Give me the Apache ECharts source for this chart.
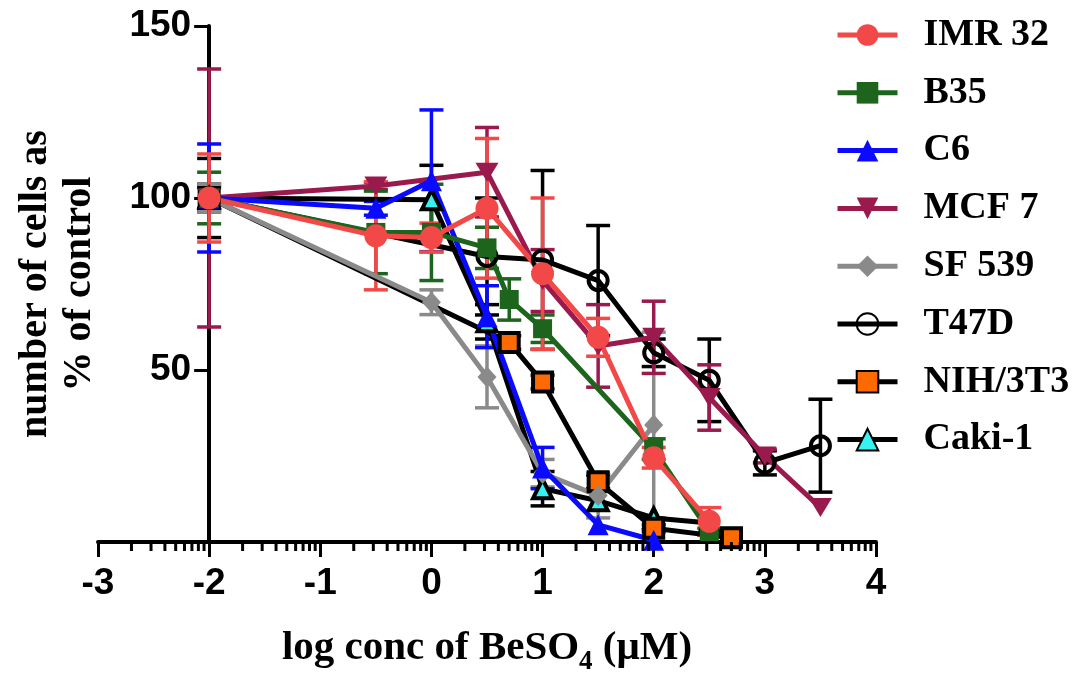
<!DOCTYPE html>
<html>
<head>
<meta charset="utf-8">
<script src="https://cdn.jsdelivr.net/npm/echarts@6/dist/echarts.min.js"></script>
<style>
  html, body { margin: 0; padding: 0; background: #ffffff; }
  #chart { width: 1075px; height: 683px; }
</style>
</head>
<body>
<div id="chart"></div>
<script>
// ---- axis ticks ----
const xTicks = [-3, -2, -1, 0, 1, 2, 3, 4];
const yTicks = [0, 50, 100, 150];

// ---- data: x = log10 concentration (uM), y = % of control, err = error bar half-length ----
const imr32X   = [-2, -0.5, 0, 0.5, 1, 1.5, 2, 2.5];
const imr32Y   = [100, 89, 88.5, 97, 78, 59.5, 24.5, 6];
const imr32Err = [12.8, 15.7, 4.2, 20.3, 22, 5.5, 3, 4];

const b35X   = [-2, -0.5, 0, 0.5, 0.7, 1, 2, 2.5];
const b35Y   = [100, 90, 90, 85.5, 70.5, 62, 27, 3];
const b35Err = [7.5, 12, 14, 6, 6, 4, 3, 1];

const c6X   = [-2, -0.5, 0, 0.5, 1, 1.5, 2];
const c6Y   = [100, 97, 105, 65.5, 21.5, 5, 0.5];
const c6Err = [15.7, 2, 20.6, 9, 6, 0, 0];

const mcf7X   = [-2, -0.5, 0.5, 1, 1.5, 2, 2.5, 3, 3.5];
const mcf7Y   = [100, 103.5, 107.5, 76, 57, 59.5, 42, 25, 10];
const mcf7Err = [37.5, 1, 13, 9, 12, 10.5, 9.5, 2, 0];

const sf539X   = [-2, 0, 0.5, 1, 1.5, 2];
const sf539Y   = [100, 69.7, 48, 20, 13.5, 34];
const sf539Err = [4, 3.6, 9, 4, 6.5, 27];

const t47dX   = [-2, 0.5, 1, 1.5, 2, 2.5, 3, 3.5];
const t47dY   = [100, 83, 82, 76, 55, 47, 23, 28];
const t47dErr = [11.5, 17, 26, 16, 4, 12, 3.5, 13.5];

const nih3t3X   = [-2, 0.7, 1, 1.5, 2, 2.7];
const nih3t3Y   = [100, 58, 46.5, 17.5, 4, 1.2];
const nih3t3Err = [3, 2, 2, 2, 1, 0];

const caki1X   = [-2, 0, 0.5, 1, 1.5, 2, 2.5];
const caki1Y   = [100, 99.5, 64, 15.5, 12, 7, 5.5];
const caki1Err = [4, 10, 5, 5, 0, 0, 0];

const legendNames = ['IMR 32', 'B35', 'C6', 'MCF 7', 'SF 539', 'T47D', 'NIH/3T3', 'Caki-1'];

// ---- styles ----
const downTriangle = 'path://M0,0L20,0L10,17Z';
const cellLines = [
  { name: 'IMR 32', x: imr32X, y: imr32Y, err: imr32Err,
    line: '#f24848', fill: '#f24848', border: '#f24848', bw: 0, symbol: 'circle', size: 23, bar: '#f24848' },
  { name: 'B35', x: b35X, y: b35Y, err: b35Err,
    line: '#1d641d', fill: '#1d641d', border: '#1d641d', bw: 0, symbol: 'rect', size: 19, bar: '#1d641d' },
  { name: 'C6', x: c6X, y: c6Y, err: c6Err,
    line: '#0a0aff', fill: '#0a0aff', border: '#0a0aff', bw: 0, symbol: 'triangle', size: 21, bar: '#0a0aff' },
  { name: 'MCF 7', x: mcf7X, y: mcf7Y, err: mcf7Err,
    line: '#9a1a4e', fill: '#9a1a4e', border: '#9a1a4e', bw: 0, symbol: downTriangle, size: [23, 19], bar: '#9a1a4e' },
  { name: 'SF 539', x: sf539X, y: sf539Y, err: sf539Err,
    line: '#8a8a8a', fill: '#8a8a8a', border: '#8a8a8a', bw: 0, symbol: 'diamond', size: [19, 21], bar: '#8a8a8a' },
  { name: 'T47D', x: t47dX, y: t47dY, err: t47dErr,
    line: '#000000', fill: 'rgba(0,0,0,0)', border: '#000000', bw: 4, symbol: 'circle', size: 19, bar: '#000000' },
  { name: 'NIH/3T3', x: nih3t3X, y: nih3t3Y, err: nih3t3Err,
    line: '#000000', fill: '#ff6a00', border: '#000000', bw: 4, symbol: 'rect', size: 19, bar: '#000000' },
  { name: 'Caki-1', x: caki1X, y: caki1Y, err: caki1Err,
    line: '#000000', fill: '#38f2f2', border: '#000000', bw: 4, symbol: 'triangle', size: 19, bar: '#000000' }
];

// log-spaced minor ticks along the x axis (2..9 within each decade)
const minorTicks = [];
for (let d = xTicks[0]; d < xTicks[xTicks.length - 1]; d++) {
  for (let k = 2; k <= 9; k++) minorTicks.push([d + Math.log10(k), 0]);
}

function errorBarItem(params, api) {
  const x = api.value(0), y = api.value(1), e = api.value(2);
  if (!e) return null;
  const top = api.coord([x, y + e]);
  const bot = api.coord([x, y - e]);
  const half = 12;
  const style = { stroke: api.visual('color'), lineWidth: 3.5 };
  return {
    type: 'group',
    children: [
      { type: 'line', shape: { x1: top[0], y1: top[1], x2: bot[0], y2: bot[1] }, style: style },
      { type: 'line', shape: { x1: top[0] - half, y1: top[1], x2: top[0] + half, y2: top[1] }, style: style },
      { type: 'line', shape: { x1: bot[0] - half, y1: bot[1], x2: bot[0] + half, y2: bot[1] }, style: style }
    ]
  };
}

function minorTickItem(params, api) {
  const p = api.coord([api.value(0), 0]);
  return {
    type: 'line',
    shape: { x1: p[0], y1: p[1], x2: p[0], y2: p[1] + 9 },
    style: { stroke: '#000', lineWidth: 3 }
  };
}

const GRID_LEFT = 98, GRID_WIDTH = 778;
const unitPx = GRID_WIDTH / (xTicks[xTicks.length - 1] - xTicks[0]);

const series = [];
// later series are drawn on top, so add them in reverse legend order
for (let i = cellLines.length - 1; i >= 0; i--) {
  const c = cellLines[i];
  series.push({
    type: 'custom',
    name: c.name + ' SEM',
    renderItem: errorBarItem,
    itemStyle: { color: c.bar },
    data: c.x.map((v, j) => [v, c.y[j], c.err[j]]),
    encode: { x: 0, y: 1 },
    clip: false,
    silent: true,
    z: 2
  });
  series.push({
    type: 'line',
    name: c.name,
    data: c.x.map((v, j) => [v, c.y[j]]),
    symbol: c.symbol,
    symbolSize: c.size,
    showAllSymbol: true,
    lineStyle: { color: c.line, width: 5 },
    itemStyle: { color: c.fill, borderColor: c.border, borderWidth: c.bw },
    z: 2
  });
}
series.push({
  type: 'custom',
  name: 'minor ticks',
  renderItem: minorTickItem,
  data: minorTicks,
  encode: { x: 0, y: 1 },
  clip: false,
  silent: true,
  z: 5
});

const chart = echarts.init(document.getElementById('chart'), null, { renderer: 'canvas' });
chart.setOption({
  animation: false,
  backgroundColor: '#ffffff',
  grid: { left: GRID_LEFT, width: GRID_WIDTH, top: 26, bottom: 141, containLabel: false },
  legend: {
    data: legendNames,
    orient: 'vertical',
    left: 830,
    top: 10,
    itemWidth: 60,
    itemHeight: 27,
    itemGap: 17.8,
    selectedMode: false,
    lineStyle: { width: 5 },
    textStyle: {
      fontFamily: 'Liberation Serif', fontWeight: 'bold', fontSize: 38,
      color: '#000', lineHeight: 40, padding: [0, 0, 0, 21]
    }
  },
  xAxis: {
    type: 'value',
    min: xTicks[0],
    max: xTicks[xTicks.length - 1],
    interval: 1,
    name: '{n|log conc of BeSO}{s|4}{n| (\u03bcM)}',
    nameLocation: 'middle',
    nameGap: 79,
    nameTextStyle: {
      rich: {
        n: { fontFamily: 'Liberation Serif', fontWeight: 'bold', fontSize: 41, color: '#000' },
        s: { fontFamily: 'Liberation Serif', fontWeight: 'bold', fontSize: 27, color: '#000', padding: [28, 0, 0, 0] }
      }
    },
    axisLine: { onZero: false, lineStyle: { color: '#000', width: 4 } },
    axisTick: { length: 15, lineStyle: { color: '#000', width: 3 } },
    axisLabel: { fontFamily: 'Liberation Sans', fontWeight: 'bold', fontSize: 37, color: '#000', margin: 23 },
    splitLine: { show: false }
  },
  yAxis: {
    type: 'value',
    min: yTicks[0],
    max: yTicks[yTicks.length - 1],
    interval: 50,
    offset: -unitPx * (xTicks[1] - xTicks[0]),
    name: 'number of cells as\n% of control',
    nameLocation: 'middle',
    nameRotate: 90,
    nameGap: 107,
    nameTextStyle: { fontFamily: 'Liberation Serif', fontWeight: 'bold', fontSize: 40, color: '#000', lineHeight: 44 },
    axisLine: { show: true, onZero: false, lineStyle: { color: '#000', width: 4 } },
    axisTick: { length: 15, lineStyle: { color: '#000', width: 3 } },
    axisLabel: {
      fontFamily: 'Liberation Sans', fontWeight: 'bold', fontSize: 37, color: '#000', margin: 18,
      formatter: v => (v === 0 ? '' : String(v))
    },
    splitLine: { show: false }
  },
  series: series
});
</script>
</body>
</html>
